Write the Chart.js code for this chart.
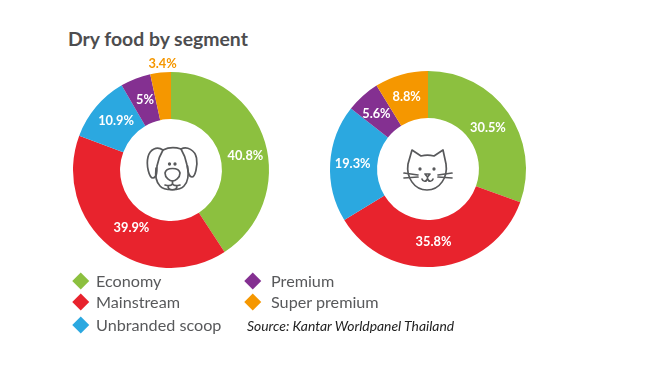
<!DOCTYPE html>
<html>
<head>
<meta charset="utf-8">
<script src="https://cdn.jsdelivr.net/npm/chart.js@4"></script>
<style>
  html, body { margin: 0; background: #fff; }
  body { position: relative; width: 657px; height: 370px; overflow: hidden; font-family: Lato, sans-serif; color: #58595b; }
  canvas { position: absolute; }
  .title { position: absolute; left: 68px; top: 27px; font-size: 19.4px; font-weight: 700; color: #4d4d4f; white-space: nowrap; }
  .legend-item { position: absolute; font-size: 16.2px; line-height: 20px; white-space: nowrap; }
  .legend-item i { position: absolute; top: 4px; width: 11.5px; height: 11.5px; transform: rotate(45deg); }
  .source { position: absolute; left: 247px; top: 317px; font-size: 13.9px; font-style: italic; color: #222; white-space: nowrap; }
  svg { position: absolute; fill: none; stroke: #58595b; stroke-width: 1.7; stroke-linecap: round; stroke-linejoin: round; }
</style>
</head>
<body>
<div class="title">Dry food by segment</div>
<canvas id="dogChart" width="230" height="230" style="left:56px;top:55px"></canvas>
<canvas id="catChart" width="230" height="230" style="left:313px;top:54px"></canvas>

<svg style="left:145px;top:144px" width="54" height="50" viewBox="0 0 54 50">
  <path d="M18 6 C24 3 30 3 36 5"/>
  <path d="M18 6 C12 2 5 5 3 13 C1 21 4 34 8 34 C12 34 12 27 12 22 C13 16 15 11 18 6"/>
  <path d="M36 5 C42 2 50 6 51.500 14 C53 22 50 33 47 33 C43 33 43 26 42 21 C41 15 39 10 36 5"/>
  <path d="M11 24 C10 32 11 38 15 42 C19 47 35 47 39 42 C43 38 44 31 42.500 22"/>
  <path d="M20 29 C21 23 34 23 35 29 C35 34 30 37 27.500 37 C25 37 20 34 20 29 Z"/>
  <path d="M27.500 37 V40 M20 41 C23 42 26 42 27.500 40 C29 42 32 42 35 41 M23 42 C23 47 32 47 32 42"/>
  <circle cx="24.500" cy="20" r="0.800"/><circle cx="30" cy="20" r="0.800"/>
</svg>
<svg style="left:403px;top:147px" width="50" height="46" viewBox="0 0 50 46">
  <path d="M9 3 L18 9 C22 8 27 8 31 9 L40 3 L43 17 C45 30 37 43 24 43 C11 43 3 30 5 17 Z"/>
  <path d="M1 26 L15 28 M1 31 L15 30 M49 26 L35 28 M49 31 L35 30"/>
  <path d="M22 27 H27 L24.500 30 Z M24.500 30 V32 M19 32 C20 35 23 35 24.500 32 C26 35 29 35 30 32"/>
  <circle cx="17" cy="22" r="0.800"/><circle cx="31" cy="22" r="0.800"/>
</svg>

<script>
const segments = ["Economy", "Mainstream", "Unbranded scoop", "Premium", "Super premium"];
const segmentColors = ["#8cc03f", "#e8232d", "#2ba8e0", "#843091", "#f59700"];
const dogShares = [40.8, 39.9, 10.9, 5, 3.4];
const catShares = [30.5, 35.8, 19.3, 5.6, 8.8];

// the artwork has the two big dog labels a little off the ring centre
const dogLabelShift = [[3, 7], [7, 0], [2, -1], [1, -1], [3, 0]];
const catLabelShift = [[-1, 2], [-2, -1], [-1, -1], [-2, 0], [-1, 0]];

// labels drawn on the slices, small slices go outside the ring
const sliceLabels = {
    id: "sliceLabels",
    afterDatasetsDraw(chart) {
        const ctx = chart.ctx;
        const values = chart.data.datasets[0].data;
        const shift = chart.options.labelShift;
        chart.getDatasetMeta(0).data.forEach((arc, i) => {
            const p = arc.getProps(["startAngle", "endAngle", "innerRadius", "outerRadius", "x", "y"]);
            const mid = (p.startAngle + p.endAngle) / 2;
            const outside = values[i] < 4;
            const r = outside ? p.outerRadius + 9 : (p.innerRadius + p.outerRadius) / 2;
            ctx.save();
            ctx.font = "700 12.8px Lato, sans-serif";
            ctx.textAlign = "center";
            ctx.textBaseline = "middle";
            ctx.fillStyle = outside ? segmentColors[i] : "#fff";
            ctx.fillText(values[i] + "%", p.x + Math.cos(mid) * r + shift[i][0], p.y + Math.sin(mid) * r + shift[i][1]);
            ctx.restore();
        });
    }
};

function drawDonut(id, values, labelShift) {
    new Chart(document.getElementById(id), {
        type: "doughnut",
        data: {
            labels: segments,
            datasets: [{ data: values, backgroundColor: segmentColors, borderWidth: 0 }]
        },
        options: {
            responsive: false,
            animation: false,
            radius: 98,
            cutout: "52%",
            labelShift: labelShift,
            plugins: { legend: { display: false }, tooltip: { enabled: false } }
        },
        plugins: [sliceLabels]
    });
}

drawDonut("dogChart", dogShares, dogLabelShift);
drawDonut("catChart", catShares, catLabelShift);

// legend, two columns: text x, text y, diamond x
const legendSpots = [[96, 271, 75], [96, 292, 75], [96, 315, 75], [271, 271, 247], [271, 292, 247]];
segments.forEach((name, i) => {
    const el = document.createElement("div");
    el.className = "legend-item";
    el.style.left = legendSpots[i][0] + "px";
    el.style.top = legendSpots[i][1] + "px";
    el.innerHTML = '<i style="left:' + (legendSpots[i][2] - legendSpots[i][0]) + 'px;background:' + segmentColors[i] + '"></i>' + name;
    document.body.appendChild(el);
});

const source = document.createElement("div");
source.className = "source";
source.textContent = "Source: Kantar Worldpanel Thailand";
document.body.appendChild(source);
</script>
</body>
</html>
